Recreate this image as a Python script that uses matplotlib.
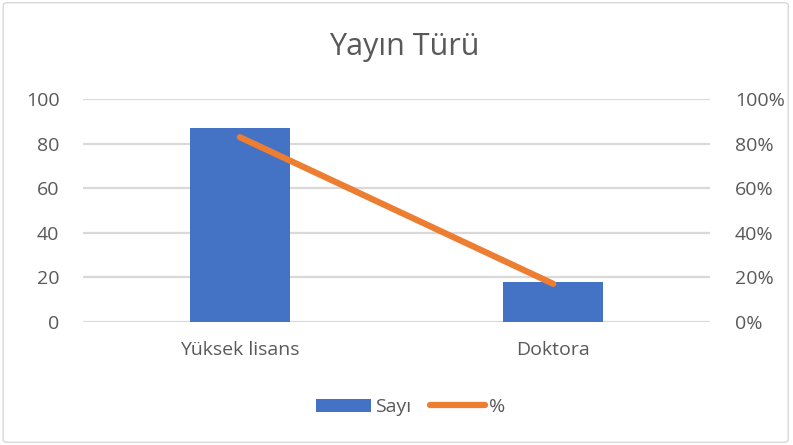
import matplotlib

matplotlib.use("Agg")
import matplotlib.pyplot as plt
from matplotlib.patches import FancyBboxPatch
from matplotlib.ticker import PercentFormatter

categories = ["Yüksek lisans", "Doktora"]
counts = [87, 18]
percent = [82.9, 17.1]

plt.rcParams["font.family"] = ["Open Sans", "DejaVu Sans"]
TXT = "#595959"
BLUE = "#4472C4"
ORANGE = "#ED7D31"
GRID = "#D9D9D9"

fig = plt.figure(figsize=(7.93, 4.45), dpi=100)
fig.patches.append(FancyBboxPatch((0.004, 0.006), 0.99, 0.988,
                                  boxstyle="round,pad=0,rounding_size=0.006",
                                  transform=fig.transFigure, fc="white",
                                  ec="#D9D9D9", lw=1.0, zorder=-10))
ax = fig.add_axes([0.1047, 0.2764, 0.7907, 0.5011])
ax2 = ax.twinx()

x = range(len(categories))
bars = ax.bar(x, counts, width=0.32, color=BLUE, label="Sayı", zorder=2)
line, = ax2.plot(x, percent, color=ORANGE, lw=4.5, solid_capstyle="round",
                 label="%", zorder=3)

ax.set_xlim(-0.5, 1.5)
ax.set_ylim(0, 100)
ax.set_yticks(range(0, 101, 20))
ax2.set_ylim(0, 100)
ax2.set_yticks(range(0, 101, 20))
ax2.yaxis.set_major_formatter(PercentFormatter(decimals=0))
ax.set_xticks(list(x), categories)

ax.grid(axis="y", color=GRID, lw=1.6, zorder=0)
ax.set_axisbelow(True)
for a in (ax, ax2):
    for s in a.spines.values():
        s.set_visible(False)
    a.tick_params(length=0, labelsize=14, colors=TXT)
ax.tick_params(axis="y", pad=17)
ax2.tick_params(axis="y", pad=18)
ax.tick_params(axis="x", pad=14)
ax2.set_zorder(ax.get_zorder() + 1)
ax2.patch.set_visible(False)

fig.text(0.51, 0.895, "Yayın Türü", ha="center", va="center",
         fontsize=22, color=TXT)
fig.legend([bars, line], ["Sayı", "%"], loc="center", ncol=2,
           bbox_to_anchor=(0.518, 0.085), frameon=False, fontsize=14,
           labelcolor=TXT, handlelength=2.8, handletextpad=0.2,
           columnspacing=1.0)

fig.savefig("out.png", dpi=100)
